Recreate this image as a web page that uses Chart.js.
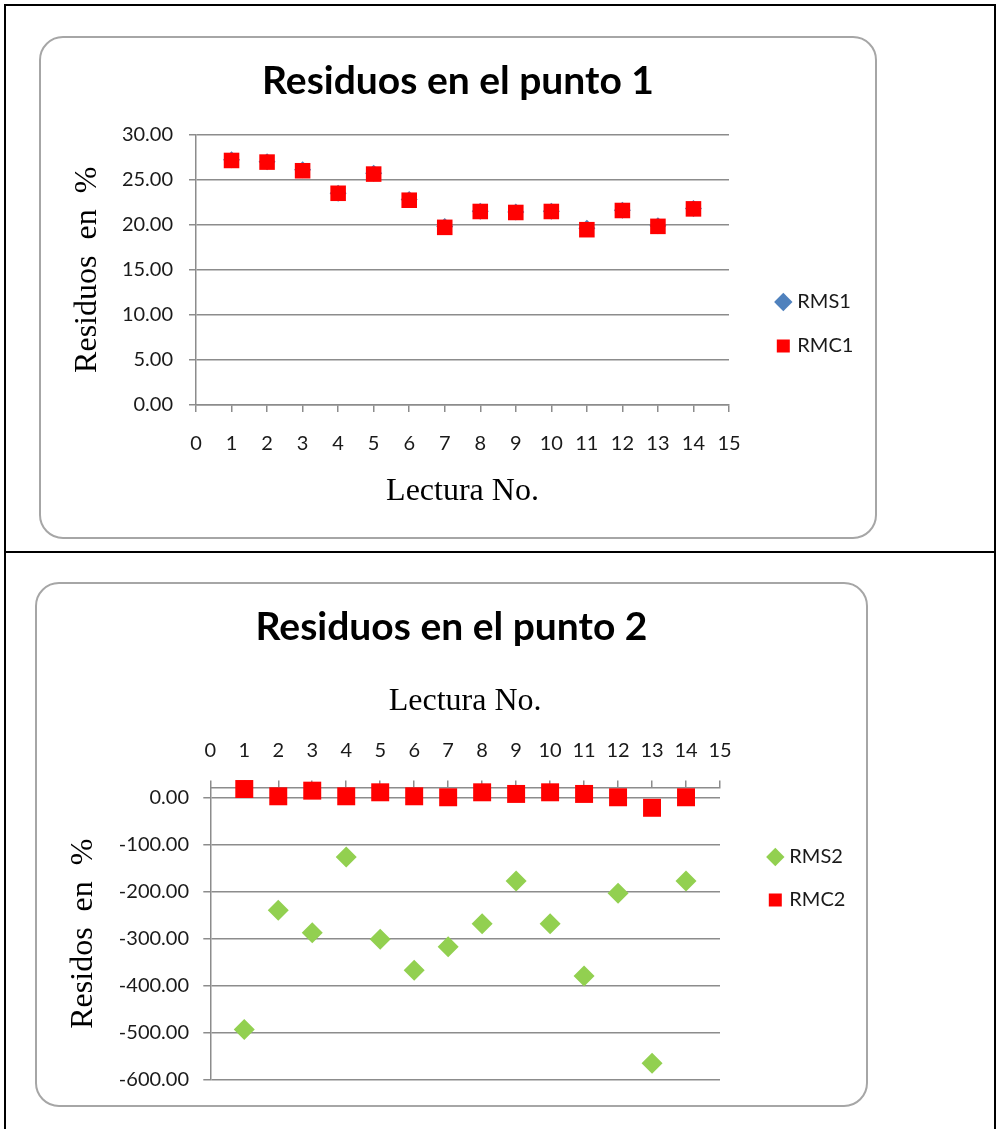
<!DOCTYPE html>
<html>
<head>
<meta charset="utf-8">
<script src="https://cdn.jsdelivr.net/npm/chart.js@4.4.1/dist/chart.umd.min.js"></script>
<style>
  body { margin: 0; background: #fff; width: 997px; height: 1129px; position: relative; overflow: hidden; }
  .marco { position: absolute; box-sizing: border-box; border: 2px solid #000; }
  .caja { position: absolute; box-sizing: border-box; border: 2px solid #a6a6a6; border-radius: 24px; background: #fff; }
  canvas { position: absolute; }
</style>
</head>
<body>
<div class="marco" style="left:4px; top:4px; width:992px; height:1140px;"></div>
<div style="position:absolute; left:4px; top:551px; width:992px; height:2px; background:#000;"></div>

<div class="caja" style="left:39px; top:36px; width:838px; height:503px;"></div>
<canvas id="grafica1" width="836" height="501" style="left:40px; top:37px;"></canvas>

<div class="caja" style="left:35px; top:582px; width:833px; height:525px;"></div>
<canvas id="grafica2" width="831" height="523" style="left:36px; top:583px;"></canvas>

<script>
// datos
const lecturas = [1, 2, 3, 4, 5, 6, 7, 8, 9, 10, 11, 12, 13, 14];

const rms1 = [27.2, 27.0, 26.1, 23.5, 25.7, 22.8, 19.8, 21.5, 21.4, 21.5, 19.6, 21.6, 19.9, 21.8];
const rmc1 = [27.13, 26.95, 25.99, 23.49, 25.62, 22.72, 19.71, 21.47, 21.36, 21.47, 19.45, 21.58, 19.82, 21.76];

const rms2 = [-493, -239, -287, -126, -301, -367, -317, -268, -177, -268, -379, -203, -565, -177];
const rmc2 = [19, 3.5, 15.5, 3.5, 12, 3.5, 1.4, 12, 8.5, 12, 8.5, 1.4, -21, 1.4];

const gris = '#8c8c8c';
const texto = '#1a1a1a';

function crearGrafica(id, cfg) {
    const fuenteTick = { family: 'Lato', size: 20 };
    const fuenteEje = { family: 'Liberation Serif', size: 32 };

    new Chart(document.getElementById(id), {
        type: 'scatter',
        data: {
            datasets: [
                {
                    label: cfg.nombres[0],
                    data: lecturas.map((x, i) => ({ x: x, y: cfg.rms[i] })),
                    pointStyle: 'rectRot',
                    pointRadius: cfg.radioRms,
                    pointHoverRadius: cfg.radioRms,
                    backgroundColor: cfg.colorRms,
                    borderColor: cfg.colorRms,
                    borderWidth: 0,
                    clip: false,
                    order: 2
                },
                {
                    label: cfg.nombres[1],
                    data: lecturas.map((x, i) => ({ x: x, y: cfg.rmc[i] })),
                    pointStyle: 'rect',
                    pointRadius: cfg.radioRmc,
                    pointHoverRadius: cfg.radioRmc,
                    backgroundColor: '#ff0000',
                    borderColor: '#ff0000',
                    borderWidth: 0,
                    clip: false,
                    order: 1
                }
            ]
        },
        options: {
            responsive: false,
            animation: false,
            devicePixelRatio: 1,
            layout: { padding: { left: cfg.margen, top: 0, right: cfg.margen, bottom: cfg.padInf } },
            plugins: {
                title: {
                    display: true,
                    text: cfg.titulo,
                    color: '#000',
                    font: { family: 'Lato', size: 39, weight: 'bold' },
                    padding: { top: 20.6, bottom: cfg.tituloInf }
                },
                legend: {
                    position: 'right',
                    align: 'center',
                    maxWidth: 100,
                    title: { display: true, text: '', font: { size: 10 }, padding: { top: 81, bottom: 0 } },
                    labels: {
                        usePointStyle: true,
                        boxWidth: 8,
                        boxHeight: 13,
                        padding: cfg.sepLeyenda,
                        color: texto,
                        font: { family: 'Lato', size: 20 },
                        sort: (a, b) => a.datasetIndex - b.datasetIndex
                    }
                },
                tooltip: { enabled: false }
            },
            scales: {
                x: {
                    type: 'linear',
                    position: cfg.posX,
                    min: 0,
                    max: 15,
                    ticks: { stepSize: 1, padding: cfg.padTickX, color: texto, font: fuenteTick },
                    grid: { drawOnChartArea: false, tickLength: 7, color: gris, lineWidth: 1.5 },
                    border: { color: gris, width: 1.5 },
                    title: { display: true, text: 'Lectura No.', color: '#000', font: fuenteEje, padding: cfg.padTituloX },
                    afterFit: (s) => { s.height = cfg.altoX; }
                },
                y: {
                    type: 'linear',
                    position: 'left',
                    min: cfg.minY,
                    max: cfg.maxY,
                    ticks: {
                        stepSize: cfg.pasoY,
                        includeBounds: false,
                        padding: cfg.padTickY,
                        color: texto,
                        font: fuenteTick,
                        callback: (v) => v.toFixed(2)
                    },
                    grid: { color: gris, tickLength: 7, lineWidth: 1.5 },
                    border: { color: gris, width: 1.5 },
                    title: { display: true, text: cfg.tituloY, color: '#000', font: fuenteEje, padding: { top: 28.8 - cfg.margen, bottom: 0 } },
                    afterFit: (s) => { s.width = cfg.anchoY - cfg.margen; }
                },
                hueco: {
                    type: 'linear',
                    position: 'right',
                    display: true,
                    grid: { display: false },
                    ticks: { display: false },
                    border: { display: false },
                    afterFit: (s) => { s.width = cfg.hueco; }
                }
            }
        }
    });
}

crearGrafica('grafica1', {
    titulo: 'Residuos en el punto 1',
    tituloY: 'Residuos  en  %',
    nombres: ['RMS1', 'RMC1'],
    rms: rms1,
    rmc: rmc1,
    colorRms: '#4f81bd',
    radioRms: 8.5,
    radioRmc: 11,
    posX: 'bottom',
    minY: 0,
    maxY: 30,
    pasoY: 5,
    margen: 20.7,
    padInf: 20,
    tituloInf: 30.2,
    altoX: 113,
    padTickX: 19.3,
    padTituloX: { top: 0, bottom: 6.8 },
    anchoY: 156,
    padTickY: 16,
    hueco: 26.3,
    sepLeyenda: 24
});

crearGrafica('grafica2', {
    titulo: 'Residuos en el punto 2',
    tituloY: 'Residos  en  %',
    nombres: ['RMS2', 'RMC2'],
    rms: rms2,
    rmc: rmc2,
    colorRms: '#92d050',
    radioRms: 10.5,
    radioRmc: 12.7,
    posX: 'top',
    minY: -600,
    maxY: 22,
    pasoY: 100,
    margen: 18.7,
    padInf: 25,
    tituloInf: 8,
    altoX: 129.2,
    padTickX: 18,
    padTituloX: { top: 24, bottom: 0 },
    anchoY: 174.3,
    padTickY: 14.3,
    hueco: 28.3,
    sepLeyenda: 23
});
</script>
</body>
</html>
